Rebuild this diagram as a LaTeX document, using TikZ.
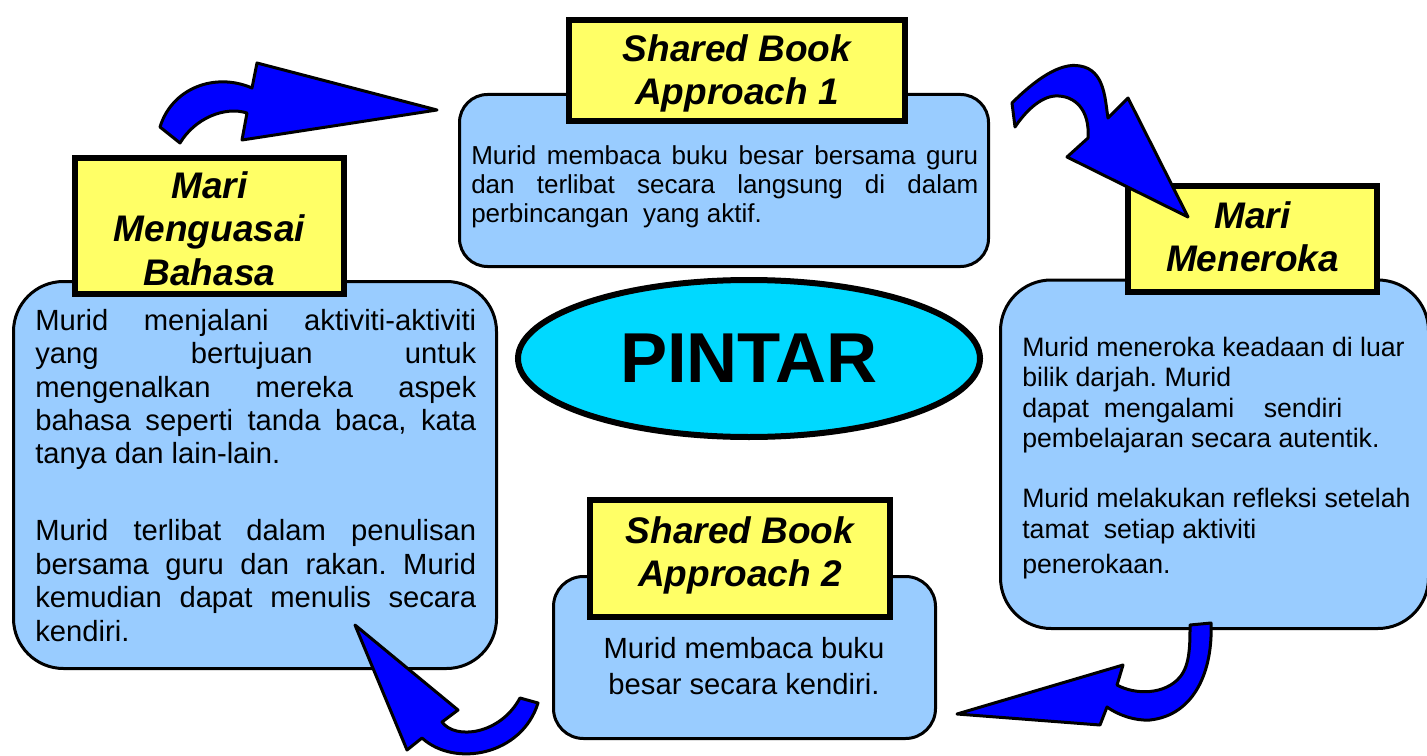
\documentclass[tikz,border=0pt]{standalone}
\usepackage{fontspec}
\setmainfont{Liberation Sans}
\usetikzlibrary{shapes.geometric}

\definecolor{boxblue}{RGB}{153,204,255}
\definecolor{titleyellow}{RGB}{255,255,102}
\definecolor{pintarcyan}{RGB}{0,217,255}
\definecolor{arrowblue}{RGB}{0,0,255}

\newcommand{\jline}[2]{\makebox[#1][s]{#2}}
\frenchspacing

\begin{document}
\begin{tikzpicture}[x=0.75pt,y=0.75pt,yscale=-1,xscale=1,
  bodybox/.style={draw=black, fill=boxblue, line width=2.25pt},
  titlebox/.style={draw=black, fill=titleyellow, line width=4.5pt, inner sep=0pt, align=center,
    font=\fontsize{27.75}{32.5}\selectfont\bfseries\itshape},
  bodytext/.style={inner sep=0pt, anchor=north west, align=left},
  bendarrow/.style={draw=black, fill=arrowblue, line width=2.25pt, line join=round}]
\useasboundingbox (0,0) rectangle (1427,756);

%Rounded Rect (Shared Book 1)
\draw [bodybox, rounded corners=21pt] (459.5,94.5) rectangle (988.5,266.5);
%Rounded Rect (Mari Menguasai Bahasa)
\draw [bodybox, rounded corners=37.5pt] (13.5,281.5) rectangle (496.5,668.5);
%Rounded Rect (Mari Meneroka)
\draw [bodybox, rounded corners=38pt] (1000.5,280) rectangle (1428.5,628.5);
%Rounded Rect (Shared Book 2)
\draw [bodybox, rounded corners=22.5pt] (553.5,576.5) rectangle (935.5,738.5);

% Title Nodes
\node [titlebox, minimum width=252pt, minimum height=75.75pt] (sbaOneTitle) at (737,70.5) {\rule{0pt}{24.5pt}Shared Book\\Approach 1};
\node [titlebox, minimum width=201.75pt, minimum height=102pt] (bahasaTitle) at (209.5,226) {\rule{0pt}{24pt}Mari\\Menguasai\\Bahasa};
\node [titlebox, minimum width=186.75pt, minimum height=79.5pt] (terokaTitle) at (1252.5,239) {Mari\\Meneroka\rule[-4pt]{0pt}{4pt}};
\node [titlebox, minimum width=225pt, minimum height=87.75pt] (sbaTwoTitle) at (740,558.5) {Shared Book\\Approach 2\rule[-10.3pt]{0pt}{10.3pt}};

% Ellipse
\node [ellipse, draw=black, fill=pintarcyan, line width=4.5pt, inner sep=0pt,
  minimum width=346.5pt, minimum height=117.75pt,
  font=\fontsize{53}{60}\selectfont\bfseries] (pintar) at (749,358.5) {PINTAR};

% Text Node
\node [bodytext, font=\fontsize{19.5}{21.75}\selectfont] (sbaOneText) at (471,145)
  {\jline{380.25pt}{Murid membaca buku besar bersama guru}\\
   \jline{380.25pt}{dan terlibat secara langsung di dalam}\\
   perbincangan\ \ yang aktif.};
% Text Node
\node [bodytext, font=\fontsize{21.9}{25.1}\selectfont] (bahasaText) at (35,308.7)
  {\jline{330.75pt}{Murid menjalani aktiviti-aktiviti}\\
   \jline{330.75pt}{yang bertujuan untuk}\\
   \jline{330.75pt}{mengenalkan mereka aspek}\\
   \jline{330.75pt}{bahasa seperti tanda baca, kata}\\
   tanya dan lain-lain.\\[32.6pt]
   \jline{330.75pt}{Murid terlibat dalam penulisan}\\
   \jline{330.75pt}{bersama guru dan rakan. Murid}\\
   \jline{330.75pt}{kemudian dapat menulis secara}\\
   kendiri.};
% Text Node
\node [bodytext, font=\fontsize{20}{22.9}\selectfont] (terokaText) at (1022,336.6)
  {Murid meneroka keadaan di luar\\
   bilik darjah. Murid\\
   dapat\ \ mengalami\ \ \ \ sendiri\\
   pembelajaran secara autentik.\\[22.1pt]
   Murid melakukan refleksi setelah\\
   tamat\ \ setiap aktiviti\\[3.4pt]
   penerokaan.};
% Text Node
\node [inner sep=0pt, anchor=north, align=center, font=\fontsize{21.9}{27}\selectfont] (sbaTwoText) at (744,636.7)
  {Murid membaca buku\\besar secara kendiri.};

%Curved Arrow (Bahasa to Shared Book 1)
\draw [bendarrow] (160,127) .. controls (172,88) and (215,72) .. (252,88) -- (257,63) -- (437,110) -- (242,140) -- (247,113) .. controls (225,106) and (195,118) .. (180,143) -- cycle;
%Curved Arrow (Shared Book 1 to Meneroka)
\draw [bendarrow] (1012,103) .. controls (1035,80) and (1060,62) .. (1080,66) .. controls (1105,70) and (1105,100) .. (1108,118) -- (1128,98) -- (1188,217) -- (1067,157) -- (1088,138) .. controls (1090,110) and (1075,95) .. (1055,96) .. controls (1040,97) and (1025,112) .. (1015,127) -- cycle;
%Curved Arrow (Meneroka to Shared Book 2)
\draw [bendarrow] (1190,625) -- (1211,623) .. controls (1213,670) and (1195,715) .. (1150,720) .. controls (1135,721) and (1118,715) .. (1107,707) -- (1100,725) -- (957,714) -- (1123,665) -- (1117,685) .. controls (1135,695) and (1165,695) .. (1180,677) .. controls (1190,665) and (1190,645) .. (1190,625) -- cycle;
%Curved Arrow (Shared Book 2 to Bahasa)
\draw [bendarrow] (355,625) -- (458,710) -- (442,722) .. controls (455,740) and (500,735) .. (520,698) -- (538,703) .. controls (522,755) and (455,768) .. (422,738) -- (407,750) -- cycle;

\end{tikzpicture}
\end{document}
